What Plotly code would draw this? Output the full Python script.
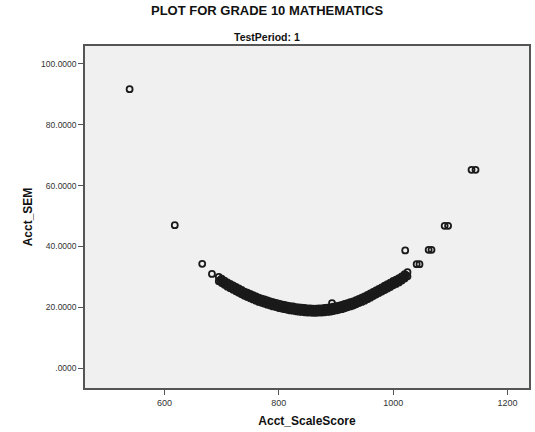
import plotly.graph_objects as go

# Band of scale scores (dense region) – readings along the lower edge, middle and upper edge of the band
band_score = [695, 700, 705, 710, 715, 720, 725, 730, 735, 740, 745, 750, 755, 760, 765, 770,
              775, 780, 785, 790, 795, 800, 805, 810, 815, 820, 825, 830, 835, 840, 845, 850,
              855, 860, 865, 870, 875, 880, 885, 890, 895, 900, 905, 910, 915, 920, 925, 930,
              935, 940, 945, 950, 955, 960, 965, 970, 975, 980, 985, 990, 995, 1000, 1005, 1010,
              1015, 1020, 1025]
band_sem_low = [28.6, 28.0, 27.4, 26.8, 26.3, 25.8, 25.3, 24.8, 24.3, 23.8, 23.4, 23.0, 22.6, 22.2,
                21.8, 21.5, 21.2, 20.9, 20.6, 20.3, 20.1, 19.8, 19.6, 19.4, 19.2, 19.0, 18.9, 18.7,
                18.6, 18.5, 18.4, 18.3, 18.3, 18.2, 18.2, 18.3, 18.3, 18.4, 18.5, 18.6, 18.8, 19.0,
                19.2, 19.4, 19.7, 20.0, 20.3, 20.6, 21.0, 21.4, 21.8, 22.2, 22.7, 23.2, 23.7, 24.2,
                24.7, 25.2, 25.7, 26.2, 26.7, 27.3, 27.7, 28.2, 28.8, 29.5, 30.2]
band_sem_high = [30.0, 29.4, 28.8, 28.2, 27.7, 27.2, 26.7, 26.2, 25.7, 25.2, 24.8, 24.4, 24.0, 23.6,
                 23.2, 22.9, 22.6, 22.3, 22.0, 21.7, 21.5, 21.2, 21.0, 20.8, 20.6, 20.4, 20.3, 20.1,
                 20.0, 19.9, 19.8, 19.7, 19.7, 19.6, 19.6, 19.7, 19.7, 19.8, 19.9, 20.0, 20.2, 20.4,
                 20.6, 20.8, 21.1, 21.4, 21.7, 22.0, 22.4, 22.8, 23.2, 23.6, 24.1, 24.6, 25.1, 25.6,
                 26.1, 26.6, 27.1, 27.6, 28.1, 28.7, 29.1, 29.6, 30.2, 30.9, 31.6]

band_score_mid = [697.5, 702.5, 707.5, 712.5, 717.5, 722.5, 727.5, 732.5, 737.5, 742.5, 747.5,
                  752.5, 757.5, 762.5, 767.5, 772.5, 777.5, 782.5, 787.5, 792.5, 797.5, 802.5,
                  807.5, 812.5, 817.5, 822.5, 827.5, 832.5, 837.5, 842.5, 847.5, 852.5, 857.5,
                  862.5, 867.5, 872.5, 877.5, 882.5, 887.5, 892.5, 897.5, 902.5, 907.5, 912.5,
                  917.5, 922.5, 927.5, 932.5, 937.5, 942.5, 947.5, 952.5, 957.5, 962.5, 967.5,
                  972.5, 977.5, 982.5, 987.5, 992.5, 997.5, 1002.5, 1007.5, 1012.5, 1017.5, 1022.5]
band_sem_mid = [29.0, 28.4, 27.8, 27.25, 26.75, 26.25, 25.75, 25.25, 24.75, 24.3, 23.9, 23.5, 23.1,
                22.7, 22.35, 22.05, 21.75, 21.45, 21.15, 20.9, 20.65, 20.4, 20.2, 20.0, 19.8, 19.65,
                19.5, 19.35, 19.25, 19.15, 19.05, 19.0, 18.95, 18.9, 18.95, 19.0, 19.05, 19.15, 19.25,
                19.4, 19.6, 19.8, 20.0, 20.25, 20.55, 20.85, 21.15, 21.5, 21.9, 22.3, 22.7, 23.15,
                23.65, 24.15, 24.65, 25.15, 25.65, 26.15, 26.65, 27.15, 27.7, 28.2, 28.65, 29.2,
                29.85, 30.55]

# Isolated points
extra_score = [539, 618, 666, 683, 893, 1021, 1041, 1046, 1062, 1067, 1090, 1096, 1137, 1144]
extra_sem = [91.7, 47.0, 34.3, 31.0, 21.4, 38.7, 34.2, 34.2, 38.9, 38.9, 46.8, 46.8, 65.2, 65.2]

x_ticks = [600, 800, 1000, 1200]
y_ticks = [0, 20, 40, 60, 80, 100]
y_tick_text = [".0000", "20.0000", "40.0000", "60.0000", "80.0000", "100.0000"]

marker = dict(symbol="circle-open", size=6, color="#1a1a1a", line=dict(width=1.8, color="#1a1a1a"))

fig = go.Figure()
for xs, ys in [(band_score, band_sem_low), (band_score, band_sem_high),
               (band_score_mid, band_sem_mid), (extra_score, extra_sem)]:
    fig.add_trace(go.Scatter(x=xs, y=ys, mode="markers", marker=marker,
                             showlegend=False, hoverinfo="x+y"))

font_family = "Liberation Sans, Arial, sans-serif"

fig.update_layout(
    width=535, height=432,
    margin=dict(l=85, r=4, t=46, b=44),
    paper_bgcolor="white",
    plot_bgcolor="#F0F0F0",
    font=dict(family=font_family, color="#222222"),
    annotations=[
        dict(text="<b>PLOT FOR GRADE 10 MATHEMATICS</b>", xref="paper", yref="paper",
             x=(268 - 85) / 446, y=(388 - 11) / 342, xanchor="center", yanchor="middle",
             showarrow=False, font=dict(size=13, family=font_family, color="#111111")),
        dict(text="<b>TestPeriod: 1</b>", xref="paper", yref="paper",
             x=(268 - 85) / 446, y=(388 - 37) / 342, xanchor="center", yanchor="middle",
             showarrow=False, font=dict(size=10.5, family=font_family, color="#111111")),
    ],
)
fig.update_xaxes(
    range=[461, 1237.5], tickvals=x_ticks, ticktext=[str(v) for v in x_ticks],
    showgrid=False, zeroline=False,
    showline=True, linecolor="#555555", linewidth=1.5, mirror=True,
    ticks="outside", ticklen=5, tickwidth=1.2, tickcolor="#555555",
    tickfont=dict(size=9, color="#333333", family=font_family),
    title=dict(text="<b>Acct_ScaleScore</b>", font=dict(size=12, color="#111111", family=font_family),
               standoff=10),
)
fig.update_yaxes(
    range=[-6.5, 105.9], tickvals=y_ticks, ticktext=y_tick_text,
    showgrid=False, zeroline=False,
    showline=True, linecolor="#555555", linewidth=1.5, mirror=True,
    ticks="outside", ticklen=5, tickwidth=1.2, tickcolor="#555555",
    tickfont=dict(size=8.5, color="#333333", family=font_family),
    title=dict(text="<b>Acct_SEM</b>", font=dict(size=12, color="#111111", family=font_family),
               standoff=6),
)

fig.write_html("out.html")
